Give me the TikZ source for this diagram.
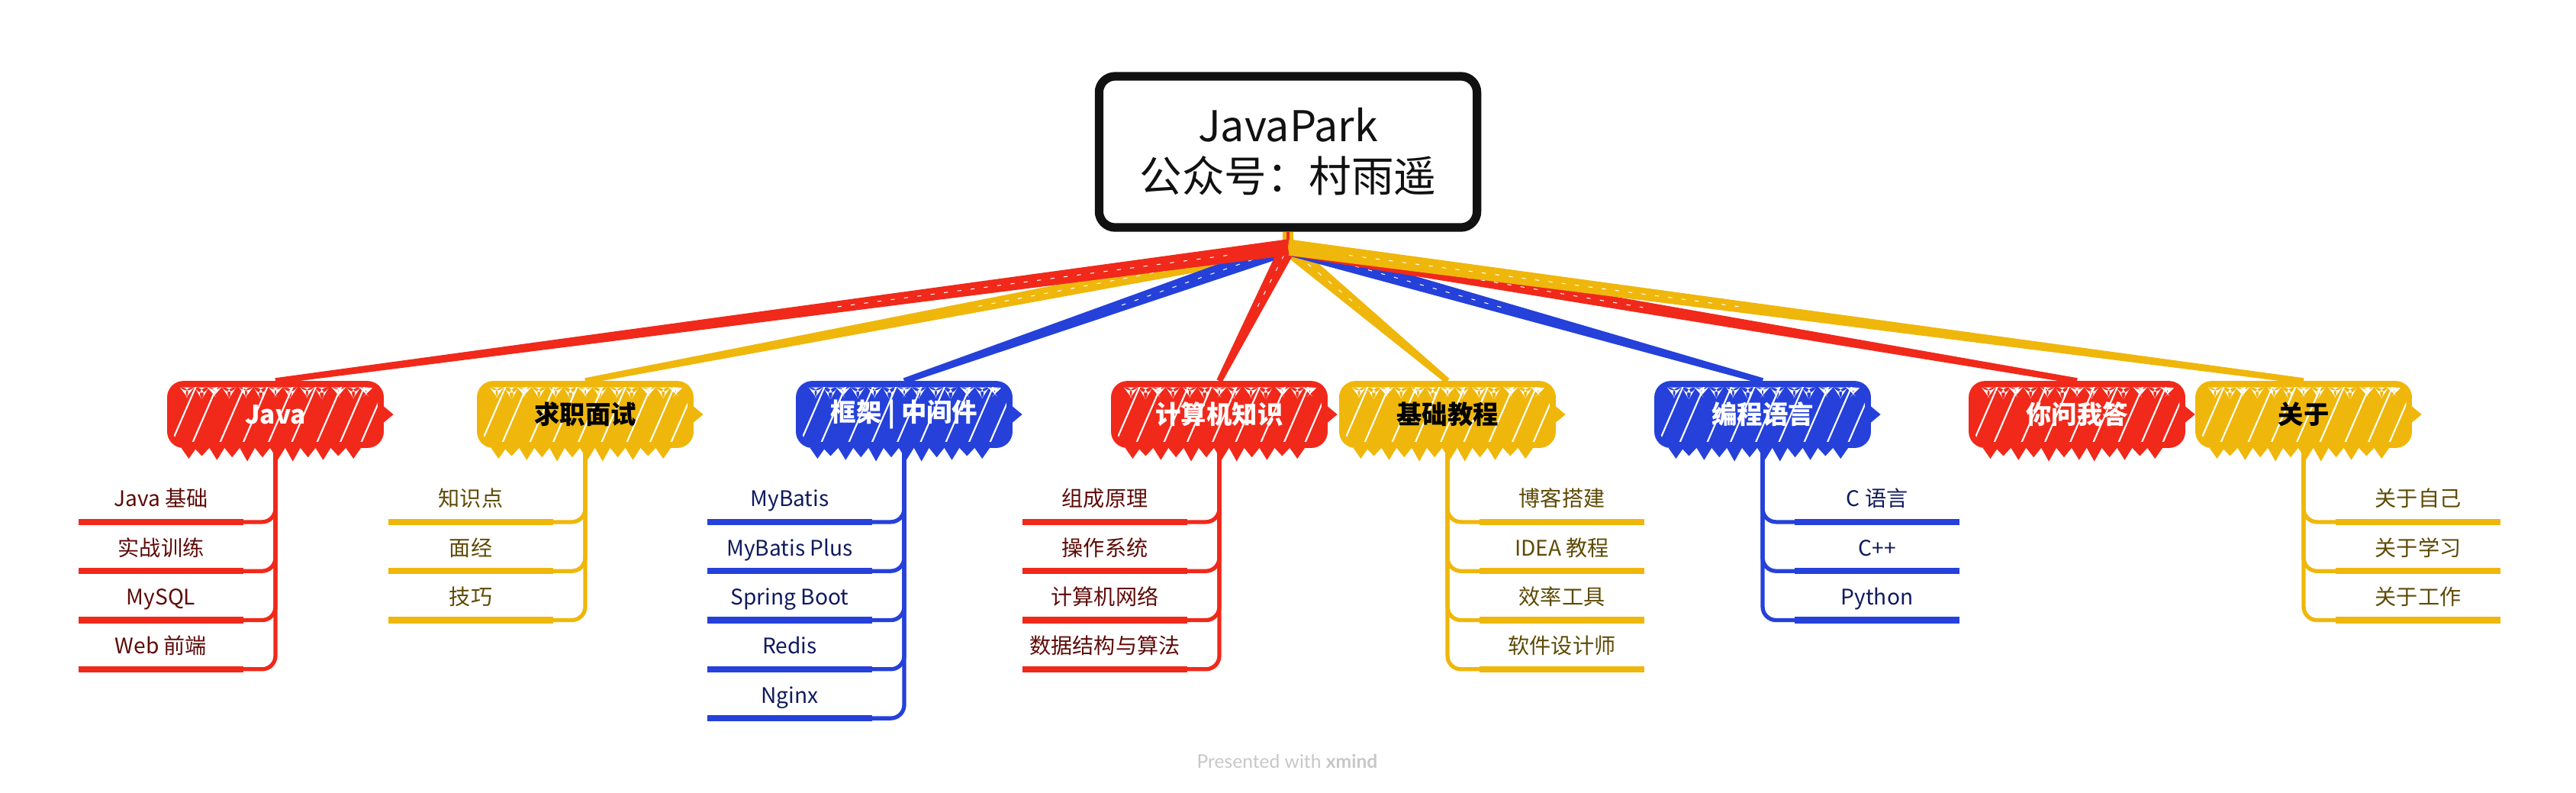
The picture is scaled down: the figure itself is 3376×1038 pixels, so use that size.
\documentclass[tikz,border=0pt]{standalone}
\usepackage{fontspec}
\setmainfont{Noto Sans CJK SC}
\newfontfamily\creditfont{Lato}
\usetikzlibrary{calc}

\definecolor{jred}{HTML}{F0291B}
\definecolor{jyellow}{HTML}{EFB70B}
\definecolor{jblue}{HTML}{2541DA}
\definecolor{tred}{HTML}{5E0B07}
\definecolor{tyellow}{HTML}{5E4A05}
\definecolor{tblue}{HTML}{0F1A5E}
\definecolor{inkblack}{HTML}{111111}

% sketchy inside of a topic: white hatch and white teeth under the top edge
\newcommand{\sketchfill}{%
  \foreach \t in {0.04,0.14,0.27,0.38,0.5,0.61,0.73,0.84,0.94}
    \draw[white, line width=0.6pt] ($(path picture bounding box.south west)!\t!(path picture bounding box.south east)+(-3pt,0)$) -- ++(10pt,23pt);
  \foreach \t/\h in {0.08/3.5,0.15/4.5,0.21/3,0.28/4,0.36/3.5,0.43/4.5,0.5/3,0.57/4,0.65/3.5,0.72/4.5,0.8/3,0.87/4,0.93/2.5}
    \fill[white] ($(path picture bounding box.north west)!\t!(path picture bounding box.north east)+(-2.6pt,-1.3pt)$) -- ++(5.2pt,0) -- ++(-2.6pt,-\h pt) -- cycle;
}
% jagged fringe under a topic, and the little spike on its right
\newcommand{\teeth}[2]{%
  \foreach \t/\h in {0.1/4,0.16/3,0.23/4.5,0.3/3.5,0.37/5,0.44/3.5,0.51/4.5,0.58/5,0.65/3.5,0.72/4.5,0.79/3,0.86/4}
    \fill[#2] ($(#1.south west)!\t!(#1.south east)+(-2.8pt,0)$) -- ++(5.6pt,0) -- ++(-2.8pt,-\h pt) -- cycle;
  \fill[#2] ($(#1.east)+(0,3pt)$) -- ++(3.6pt,-3pt) -- ++(-3.6pt,-3pt) -- cycle;
}
% tapered line from the hub to a topic
\newcommand{\branch}[2]{%
  \fill[#1] ($(hub)!3pt!90:(#2.north)$) -- ($(#2.north)!1.1pt!-90:(hub)$) -- ($(#2.north)!1.1pt!90:(hub)$) -- ($(hub)!3pt!-90:(#2.north)$) -- cycle;
  \draw[white, line width=0.3pt, dash pattern=on 1.5pt off 3.5pt] ($(hub)!0.06!(#2.north)$) -- ($(hub)!0.45!(#2.north)$);
}

\begin{document}
\begin{tikzpicture}[x=0.01cm, y=-0.01cm]
    \tikzstyle{root_box} = [draw=inkblack, line width=3.2pt, rounded corners=6pt, fill=white, minimum width=4.95cm, minimum height=1.98cm, align=center, text=inkblack, font=\fontsize{15.8pt}{18.8pt}\selectfont]
    \tikzstyle{topic} = [rounded corners=5pt, minimum width=2.76cm, minimum height=0.8cm, inner sep=0pt, line width=2.2pt, font=\bfseries\fontsize{9.5pt}{11pt}\selectfont, path picture={\sketchfill}]
    \tikzstyle{topic_red} = [topic, draw=jred, fill=jred, text=white]
    \tikzstyle{topic_yellow} = [topic, draw=jyellow, fill=jyellow, text=black]
    \tikzstyle{topic_blue} = [topic, draw=jblue, fill=jblue, text=white]
    \tikzstyle{leaf} = [anchor=south, minimum width=2.14cm, inner xsep=0pt, inner ysep=0.14cm, text height=6pt, text depth=1.5pt, font=\fontsize{8pt}{9.6pt}\selectfont]
    \tikzstyle{stem} = [line width=1.5pt, rounded corners=5pt]
    \tikzstyle{underline} = [line width=2.4pt]

    \useasboundingbox (0,0) rectangle (3376,1038);

    \node[root_box] (root) at (1688,199) {JavaPark\\公众号：村雨遥};
    \coordinate (hub) at (1688,324);

    \node[topic_red] (java) at (361,543) {Java};
    \node[topic_yellow] (qiuzhi) at (767,543) {求职面试};
    \node[topic_blue] (kuangjia) at (1185,543) {框架 | 中间件};
    \node[topic_red] (jisuanji) at (1598,543) {计算机知识};
    \node[topic_yellow] (jichu) at (1897,543) {基础教程};
    \node[topic_blue] (biancheng) at (2310,543) {编程语言};
    \node[topic_red] (wenda) at (2722,543) {你问我答};
    \node[topic_yellow] (guanyu) at (3019,543) {关于};

    \draw[jyellow, line width=4pt] (root.south) -- (hub);
    \draw[jred, line width=1.2pt] (root.south) -- (hub);
    \branch{jyellow}{jichu}
    \branch{jyellow}{qiuzhi}
    \branch{jblue}{kuangjia}
    \branch{jblue}{biancheng}
    \branch{jred}{jisuanji}
    \branch{jred}{wenda}
    \branch{jyellow}{guanyu}
    \branch{jred}{java}

    % children on the left
    \foreach \txt [count=\i] in {Java 基础,实战训练,MySQL,Web 前端} {
        \node[leaf, text=tred] (java-\i) at ($(java.south)+(-150,{97+64.3*(\i-1)})$) {\txt};
        \draw[stem, jred] (java.south) |- (java-\i.south west);
        \draw[underline, jred] (java-\i.south west) -- (java-\i.south east);
    }
    \foreach \txt [count=\i] in {知识点,面经,技巧} {
        \node[leaf, text=tyellow] (qiuzhi-\i) at ($(qiuzhi.south)+(-150,{97+64.3*(\i-1)})$) {\txt};
        \draw[stem, jyellow] (qiuzhi.south) |- (qiuzhi-\i.south west);
        \draw[underline, jyellow] (qiuzhi-\i.south west) -- (qiuzhi-\i.south east);
    }
    \foreach \txt [count=\i] in {MyBatis,MyBatis Plus,Spring Boot,Redis,Nginx} {
        \node[leaf, text=tblue] (kuangjia-\i) at ($(kuangjia.south)+(-150,{97+64.3*(\i-1)})$) {\txt};
        \draw[stem, jblue] (kuangjia.south) |- (kuangjia-\i.south west);
        \draw[underline, jblue] (kuangjia-\i.south west) -- (kuangjia-\i.south east);
    }
    \foreach \txt [count=\i] in {组成原理,操作系统,计算机网络,数据结构与算法} {
        \node[leaf, text=tred] (jisuanji-\i) at ($(jisuanji.south)+(-150,{97+64.3*(\i-1)})$) {\txt};
        \draw[stem, jred] (jisuanji.south) |- (jisuanji-\i.south west);
        \draw[underline, jred] (jisuanji-\i.south west) -- (jisuanji-\i.south east);
    }

    % children on the right
    \foreach \txt [count=\i] in {博客搭建,IDEA 教程,效率工具,软件设计师} {
        \node[leaf, text=tyellow] (jichu-\i) at ($(jichu.south)+(150,{97+64.3*(\i-1)})$) {\txt};
        \draw[stem, jyellow] (jichu.south) |- (jichu-\i.south east);
        \draw[underline, jyellow] (jichu-\i.south west) -- (jichu-\i.south east);
    }
    \foreach \txt [count=\i] in {C 语言,C++,Python} {
        \node[leaf, text=tblue] (biancheng-\i) at ($(biancheng.south)+(150,{97+64.3*(\i-1)})$) {\txt};
        \draw[stem, jblue] (biancheng.south) |- (biancheng-\i.south east);
        \draw[underline, jblue] (biancheng-\i.south west) -- (biancheng-\i.south east);
    }
    \foreach \txt [count=\i] in {关于自己,关于学习,关于工作} {
        \node[leaf, text=tyellow] (guanyu-\i) at ($(guanyu.south)+(150,{97+64.3*(\i-1)})$) {\txt};
        \draw[stem, jyellow] (guanyu.south) |- (guanyu-\i.south east);
        \draw[underline, jyellow] (guanyu-\i.south west) -- (guanyu-\i.south east);
    }

    \teeth{java}{jred}
    \teeth{qiuzhi}{jyellow}
    \teeth{kuangjia}{jblue}
    \teeth{jisuanji}{jred}
    \teeth{jichu}{jyellow}
    \teeth{biancheng}{jblue}
    \teeth{wenda}{jred}
    \teeth{guanyu}{jyellow}

    \node[text=black!22, font=\creditfont\fontsize{7pt}{8.4pt}\selectfont] (credit) at (1687,997) {Presented with \textbf{xmind}};
\end{tikzpicture}
\end{document}
